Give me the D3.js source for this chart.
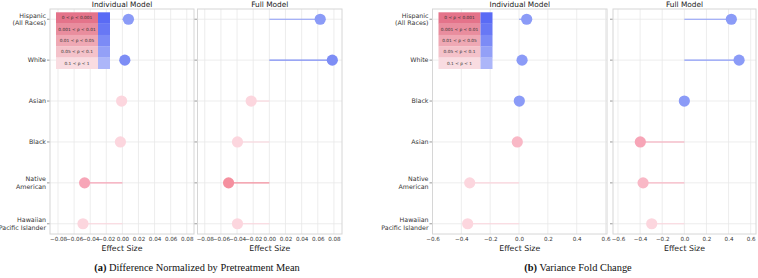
<!DOCTYPE html>
<html>
<head>
<meta charset="utf-8">
<script src="https://cdn.jsdelivr.net/npm/d3@7"></script>
<style>
  body { margin: 0; background: #fff; }
  svg { display: block; font-family: "DejaVu Sans", sans-serif; }
</style>
</head>
<body>
<svg id="chart" width="758" height="278"></svg>
<script>
// ---- data ----
const groupsA = ["Hispanic\n(All Races)", "White", "Asian", "Black", "Native\nAmerican", "Hawaiian\nPacific Islander"];
const groupsB = ["Hispanic\n(All Races)", "White", "Black", "Asian", "Native\nAmerican", "Hawaiian\nPacific Islander"];

// (a) difference normalized by pretreatment mean
const indivA = [0.0075, 0.003, -0.001, -0.0025, -0.047, -0.049];
const fullA = [0.063, 0.078, -0.0225, -0.0395, -0.0505, -0.0395];
// p-value bucket (0: p<0.001 ... 4: 0.1<p<1)
const indivPA = [2, 1, 4, 4, 2, 4];
const fullPA = [2, 1, 4, 4, 1, 4];

// (b) variance fold change
const indivB = [0.053, 0.021, 0.002, -0.012, -0.342, -0.356];
const fullB = [0.425, 0.495, 0.0, -0.398, -0.373, -0.295];
const indivPB = [2, 2, 2, 3, 4, 4];
const fullPB = [2, 2, 2, 2, 3, 4];

const ticksA = [-0.08, -0.06, -0.04, -0.02, 0.00, 0.02, 0.04, 0.06, 0.08];
const ticksB = [-0.6, -0.4, -0.2, 0.0, 0.2, 0.4, 0.6];

const legendLabels = ["0 < p < 0.001", "0.001 < p < 0.01", "0.01 < p < 0.05", "0.05 < p < 0.1", "0.1 < p < 1"];

// ---- colours ----
const legendRed = ["#e4738a", "#e98d9e", "#efa8b4", "#f4c2ca", "#f9dce1"];
const legendBlue = ["#5a6bf5", "#6878f5", "#7c8bf6", "#93a0f7", "#acb6f9"];
const dotRed = ["#f27a90", "#f5909f", "#f7a5b7", "#f9b8c6", "#fcd6de"];
const dotBlue = ["#6f80f4", "#7d8df5", "#8b9bf7", "#a3aff8", "#bcc5fa"];

const svg = d3.select("#chart");
const plotTop = 9, plotBottom = 234;
const minus = s => s.replace("-", "\u2212");

function drawPanel(g, opts) {
    const x = d3.scaleLinear().domain(opts.domain).range([opts.x0, opts.x1]);
    const y = d3.scalePoint().domain(opts.groups).range([plotTop, plotBottom]).padding(0.25);

    // grid
    g.append("g").selectAll("line")
        .data(opts.ticks)
        .join("line")
        .attr("x1", d => x(d)).attr("x2", d => x(d))
        .attr("y1", plotTop).attr("y2", plotBottom)
        .attr("stroke", "#e9e9e9").attr("stroke-width", 0.8);
    g.append("g").selectAll("line")
        .data(opts.groups)
        .join("line")
        .attr("x1", opts.x0).attr("x2", opts.x1)
        .attr("y1", d => y(d)).attr("y2", d => y(d))
        .attr("stroke", "#e9e9e9").attr("stroke-width", 0.8);

    // frame
    g.append("rect")
        .attr("x", opts.x0).attr("y", plotTop)
        .attr("width", opts.x1 - opts.x0).attr("height", plotBottom - plotTop)
        .attr("fill", "none").attr("stroke", "#d6d6d6").attr("stroke-width", 1);

    // x axis labels
    const xAxis = d3.axisBottom(x)
        .tickValues(opts.ticks)
        .tickSize(0)
        .tickPadding(3)
        .tickFormat(d => minus(d3.format(opts.fmt)(d)));
    const ax = g.append("g").attr("transform", `translate(0,${plotBottom})`).call(xAxis);
    ax.select(".domain").remove();
    ax.selectAll("text").attr("font-size", 5.6).attr("fill", "#333").attr("font-family", "DejaVu Sans");

    // y ticks
    g.append("g").selectAll("line")
        .data(opts.groups)
        .join("line")
        .attr("x1", opts.x0 - 3).attr("x2", opts.x0 - 0.5)
        .attr("y1", d => y(d)).attr("y2", d => y(d))
        .attr("stroke", "#555").attr("stroke-width", 0.6);

    if (opts.labels) {
        const lab = g.append("g").selectAll("text")
            .data(opts.groups)
            .join("text")
            .attr("text-anchor", "end")
            .attr("font-size", 6.3)
            .attr("fill", "#333");
        lab.each(function (d) {
            const lines = d.split("\n");
            const t = d3.select(this);
            lines.forEach((l, i) => {
                t.append("tspan")
                    .attr("x", opts.x0 - 4)
                    .attr("y", y(d) + 2.3 + (i - (lines.length - 1) / 2) * 7.7)
                    .text(l);
            });
        });
    }

    // stems and dots
    const pts = opts.groups.map((grp, i) => ({ grp, v: opts.values[i], p: opts.p[i] }));
    const col = d => d.v >= 0 ? dotBlue[d.p] : dotRed[d.p];
    g.append("g").selectAll("line")
        .data(pts)
        .join("line")
        .attr("x1", x(0)).attr("x2", d => x(d.v))
        .attr("y1", d => y(d.grp)).attr("y2", d => y(d.grp))
        .attr("stroke", col).attr("stroke-width", 1.1);
    g.append("g").selectAll("circle")
        .data(pts)
        .join("circle")
        .attr("cx", d => x(d.v))
        .attr("cy", d => y(d.grp))
        .attr("r", 5.6)
        .attr("fill", col);

    // title + axis label
    g.append("text")
        .attr("x", (opts.x0 + opts.x1) / 2).attr("y", 7)
        .attr("text-anchor", "middle").attr("font-size", 7.4).attr("fill", "#222")
        .text(opts.title);
    g.append("text")
        .attr("x", (opts.x0 + opts.x1) / 2).attr("y", 251)
        .attr("text-anchor", "middle").attr("font-size", 7.8).attr("fill", "#222")
        .text("Effect Size");

    if (opts.legend) {
        const lx = opts.x0 + 6, ly = 12.3, rw = 42, bw = 12, rh = 11.3;
        const lg = g.append("g");
        lg.append("g").selectAll("rect")
            .data(legendLabels)
            .join("rect")
            .attr("x", lx).attr("y", (d, i) => ly + i * rh)
            .attr("width", rw).attr("height", rh + 0.2)
            .attr("fill", (d, i) => legendRed[i]);
        lg.append("g").selectAll("rect")
            .data(legendLabels)
            .join("rect")
            .attr("x", lx + rw).attr("y", (d, i) => ly + i * rh)
            .attr("width", bw).attr("height", rh + 0.2)
            .attr("fill", (d, i) => legendBlue[i]);
        lg.append("g").selectAll("text")
            .data(legendLabels)
            .join("text")
            .attr("x", lx + rw / 2).attr("y", (d, i) => ly + i * rh + rh / 2 + 1.5)
            .attr("text-anchor", "middle")
            .attr("font-size", 4.3)
            .attr("fill", "#333")
            .text(d => d);
    }
}

const gA = svg.append("g");
drawPanel(gA, { x0: 50, x1: 194, domain: [-0.09, 0.089], ticks: ticksA, fmt: ".2f", groups: groupsA,
    values: indivA, p: indivPA, title: "Individual Model", labels: true, legend: true });
drawPanel(gA, { x0: 197.5, x1: 342, domain: [-0.089, 0.09], ticks: ticksA, fmt: ".2f", groups: groupsA,
    values: fullA, p: fullPA, title: "Full Model" });

const gB = svg.append("g");
drawPanel(gB, { x0: 432.5, x1: 607, domain: [-0.6, 0.61], ticks: ticksB, fmt: ".1f", groups: groupsB,
    values: indivB, p: indivPB, title: "Individual Model", labels: true, legend: true });
drawPanel(gB, { x0: 613, x1: 756, domain: [-0.645, 0.648], ticks: ticksB, fmt: ".1f", groups: groupsB,
    values: fullB, p: fullPB, title: "Full Model" });

// captions
const caps = [
    { x: 197, b: "(a)", t: " Difference Normalized by Pretreatment Mean" },
    { x: 578, b: "(b)", t: " Variance Fold Change" }
];
caps.forEach(c => {
    const t = svg.append("text")
        .attr("x", c.x).attr("y", 271)
        .attr("text-anchor", "middle")
        .attr("font-family", "Liberation Serif, serif")
        .attr("font-size", 10.4)
        .attr("fill", "#111");
    t.append("tspan").attr("font-weight", "bold").text(c.b);
    t.append("tspan").text(c.t);
});
</script>
</body>
</html>
